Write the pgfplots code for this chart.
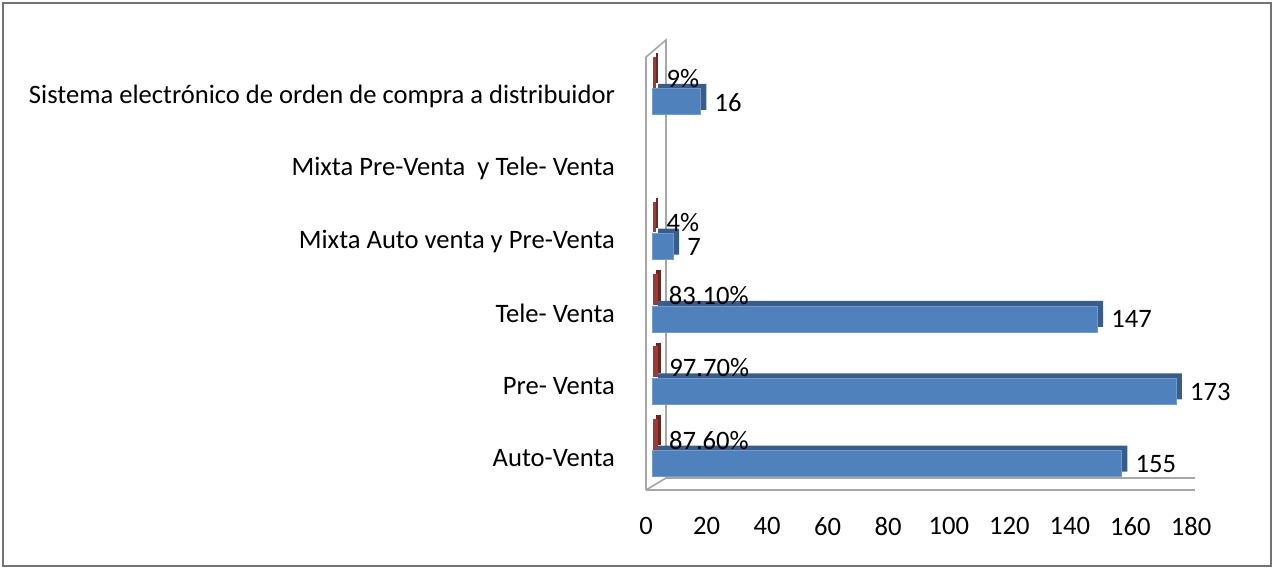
\documentclass[border=0pt]{standalone}
\usepackage{fontspec}
\setmainfont{Carlito}
\usepackage{pgfplots}
\pgfplotsset{compat=1.18}

\definecolor{blueF}{HTML}{4F81BD}
\definecolor{blueD}{HTML}{385D8A}
\definecolor{redF}{HTML}{9E3A38}
\definecolor{redD}{HTML}{6B2523}
\definecolor{wallgray}{HTML}{A6A6A6}

\begin{document}
\begin{tikzpicture}[font=\fontsize{13.3}{15}\selectfont]
\useasboundingbox (0,0) rectangle (637pt,284.5pt);
\draw[draw=gray!90!black, line width=1pt] (1.5pt,1.5pt) rectangle (635.5pt,283pt);
% 3d wall and floor
\draw[wallgray, line width=0.8pt] (323pt,39.5pt) -- (323pt,256pt) -- (333pt,264.5pt) -- (333pt,45.5pt) -- (597.5pt,45.5pt);
\draw[wallgray, line width=0.8pt] (323pt,39.5pt) -- (597.5pt,39.5pt);
\draw[wallgray, line width=0.8pt] (323pt,39.5pt) -- (333pt,45.5pt);

\begin{axis}[
    at={(323pt,39.5pt)}, anchor=south west,
    scale only axis, width=272.5pt, height=224pt,
    xmin=0, xmax=180, ymin=-0.44, ymax=5.75,
    axis line style={draw=none},
    xtick={0,20,...,180},
    ytick={0,1,2,3,4,5},
    yticklabels={Auto-Venta, Pre- Venta, Tele- Venta, Mixta Auto venta y Pre-Venta, Mixta Pre-Venta\ \ y Tele- Venta, Sistema electrónico de orden de compra a distribuidor},
    major tick length=0pt,
    xticklabel style={yshift=-10pt},
    yticklabel style={xshift=-12pt},
    /pgf/number format/assume math mode=true,
    bar width=13pt,
    clip=false,
]
% percentage series (red)
\addplot[xbar, bar width=14pt, bar shift=12pt, fill=redD, draw=redD, line width=1.2pt, xshift=5.5pt, yshift=2pt]
    coordinates {(0.876,0) (0.977,1) (0.831,2) (0.04,3) (0.09,5)};
\addplot[xbar, bar width=14pt, bar shift=12pt, fill=redF, draw=redF, line width=1.4pt, xshift=4pt,
    point meta=explicit symbolic, nodes near coords,
    nodes near coords style={anchor=west, xshift=5.5pt, yshift=9pt, inner sep=0pt, text=black}]
    coordinates {(0.876,0) [87.60\%] (0.977,1) [97.70\%] (0.831,2) [83.10\%] (0.04,3) [4\%] (0.09,5) [9\%]};
% count series (blue)
\addplot[xbar, bar shift=-2.75pt, fill=blueD, draw=none, xshift=6pt, yshift=2.5pt]
    coordinates {(155,0) (173,1) (147,2) (7,3) (16,5)};
\addplot[xbar, bar shift=-2.75pt, fill=blueF, draw=blueF!80!white, line width=0.3pt, xshift=3pt,
    nodes near coords,
    nodes near coords style={anchor=west, xshift=7pt, yshift=-3pt, inner sep=0pt, text=black}]
    coordinates {(155,0) (173,1) (147,2) (7,3) (16,5)};
\end{axis}
\end{tikzpicture}
\end{document}
